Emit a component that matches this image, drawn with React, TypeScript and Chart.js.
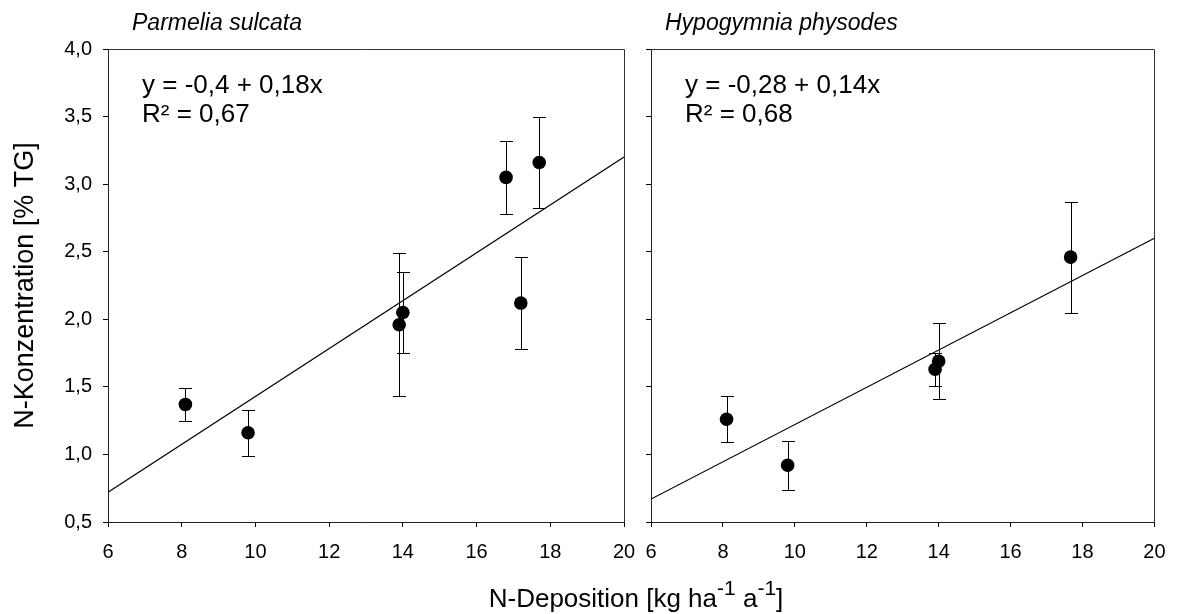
import React, { useEffect, useRef } from "react";
import { Chart, registerables } from "chart.js";

Chart.register(...registerables);

// ---- data ----
const xTicks = [6, 8, 10, 12, 14, 16, 18, 20];
const yTicks = [0.5, 1.0, 1.5, 2.0, 2.5, 3.0, 3.5, 4.0];

const leftX = [8.1, 9.8, 13.9, 14.0, 16.8, 17.2, 17.7];
const leftY = [1.37, 1.16, 1.96, 2.05, 3.05, 2.12, 3.16];
const leftLow = [1.25, 0.99, 1.43, 1.75, 2.78, 1.78, 2.82];
const leftHigh = [1.49, 1.33, 2.49, 2.35, 3.32, 2.46, 3.5];

const rightX = [8.1, 9.8, 13.9, 14.0, 17.67];
const rightY = [1.26, 0.92, 1.63, 1.69, 2.46];
const rightLow = [1.09, 0.74, 1.51, 1.41, 2.05];
const rightHigh = [1.43, 1.1, 1.75, 1.97, 2.87];

const lineX = [6, 20];
const leftLineY = [0.72, 3.2];
const rightLineY = [0.67, 2.6];

const leftTitle = "Parmelia sulcata";
const rightTitle = "Hypogymnia physodes";
const leftEq = ["y = -0,4 + 0,18x", "R² = 0,67"];
const rightEq = ["y = -0,28 + 0,14x", "R² = 0,68"];
const yTitle = "N-Konzentration [% TG]";

const FONT = "'Liberation Sans', Arial, sans-serif";

function errorBarPlugin(xs: number[], lows: number[], highs: number[]) {
  return {
    id: "errbars",
    beforeDatasetsDraw(chart: any) {
      const { ctx } = chart;
      const xs_ = chart.scales.x;
      const ys_ = chart.scales.y;
      ctx.save();
      ctx.strokeStyle = "#000";
      ctx.lineWidth = 1;
      for (let i = 0; i < xs.length; i++) {
        const px = Math.round(xs_.getPixelForValue(xs[i])) + 0.5;
        const pl = Math.round(ys_.getPixelForValue(lows[i])) + 0.5;
        const ph = Math.round(ys_.getPixelForValue(highs[i])) + 0.5;
        ctx.beginPath();
        ctx.moveTo(px, pl);
        ctx.lineTo(px, ph);
        ctx.moveTo(px - 6.5, pl);
        ctx.lineTo(px + 6.5, pl);
        ctx.moveTo(px - 6.5, ph);
        ctx.lineTo(px + 6.5, ph);
        ctx.stroke();
      }
      ctx.restore();
    },
  };
}

function framePlugin() {
  return {
    id: "frame",
    afterDatasetsDraw(chart: any) {
      const { ctx, chartArea: a } = chart;
      ctx.save();
      ctx.strokeStyle = "#333";
      ctx.lineWidth = 1;
      ctx.beginPath();
      ctx.moveTo(Math.round(a.left), Math.round(a.top) + 0.5);
      ctx.lineTo(Math.round(a.right) + 0.5, Math.round(a.top) + 0.5);
      ctx.lineTo(Math.round(a.right) + 0.5, Math.round(a.bottom));
      ctx.stroke();
      ctx.restore();
    },
  };
}

function textPlugin(title: string, eq: string[], titleX: number, eqX: number, withAxisTitles: boolean) {
  return {
    id: "texts",
    afterDraw(chart: any) {
      const { ctx } = chart;
      ctx.save();
      ctx.fillStyle = "#000";
      ctx.textBaseline = "alphabetic";
      ctx.textAlign = "left";
      ctx.font = `italic 23px ${FONT}`;
      ctx.fillText(title, titleX, 30);
      ctx.font = `26px ${FONT}`;
      ctx.fillText(eq[0], eqX, 93);
      ctx.fillText(eq[1], eqX, 122);
      if (withAxisTitles) {
        // y title
        ctx.save();
        ctx.translate(33, 285.5);
        ctx.rotate(-Math.PI / 2);
        ctx.textAlign = "center";
        ctx.font = `27px ${FONT}`;
        ctx.fillText(yTitle, 0, 0);
        ctx.restore();
        // x title with superscripts
        const parts: [string, boolean][] = [
          ["N-Deposition [kg ha", false],
          ["-1", true],
          [" a", false],
          ["-1", true],
          ["]", false],
        ];
        const big = `26px ${FONT}`;
        const small = `21px ${FONT}`;
        let total = 0;
        for (const [t, s] of parts) {
          ctx.font = s ? small : big;
          total += ctx.measureText(t).width;
        }
        let x = 636 - total / 2;
        for (const [t, s] of parts) {
          ctx.font = s ? small : big;
          ctx.fillText(t, x, s ? 595 : 607);
          x += ctx.measureText(t).width;
        }
      }
      ctx.restore();
    },
  };
}

function makeConfig(
  xs: number[],
  ys: number[],
  lineY: number[],
  yAxisWidth: number,
  showYLabels: boolean,
  padRight: number,
  plugins: any[]
): any {
  return {
    type: "scatter",
    data: {
      datasets: [
        {
          type: "line",
          data: lineX.map((x, i) => ({ x, y: lineY[i] })),
          borderColor: "#000",
          borderWidth: 1.2,
          pointRadius: 0,
          showLine: true,
          fill: false,
        },
        {
          type: "scatter",
          data: xs.map((x, i) => ({ x, y: ys[i] })),
          backgroundColor: "#000",
          borderColor: "#000",
          borderWidth: 0,
          pointRadius: 6.8,
          pointHoverRadius: 6.8,
        },
      ],
    },
    options: {
      animation: false,
      responsive: false,
      devicePixelRatio: 1,
      events: [],
      layout: { padding: { top: 49, right: padRight, bottom: 0, left: 0 } },
      plugins: { legend: { display: false }, tooltip: { enabled: false } },
      scales: {
        x: {
          type: "linear",
          min: 6,
          max: 20,
          afterBuildTicks: (scale: any) => {
            scale.ticks = xTicks.map((v) => ({ value: v }));
          },
          afterFit: (scale: any) => {
            scale.height = 92;
          },
          ticks: {
            color: "#000",
            font: { family: FONT, size: 20 },
            padding: 13.5,
            maxRotation: 0,
            autoSkip: false,
            callback: (v: any) => String(v),
          },
          grid: { display: true, drawOnChartArea: false, drawTicks: true, tickLength: 5, color: "#000" },
          border: { display: true, color: "#222", width: 1 },
        },
        y: {
          type: "linear",
          min: 0.5,
          max: 4.0,
          afterBuildTicks: (scale: any) => {
            scale.ticks = yTicks.map((v) => ({ value: v }));
          },
          afterFit: (scale: any) => {
            scale.width = yAxisWidth;
          },
          ticks: {
            color: "#000",
            font: { family: FONT, size: 20 },
            padding: 11,
            autoSkip: false,
            callback: (v: any) => (showYLabels ? Number(v).toFixed(1).replace(".", ",") : ""),
          },
          grid: { display: true, drawOnChartArea: false, drawTicks: true, tickLength: 5, color: "#000" },
          border: { display: true, color: "#222", width: 1 },
        },
      },
    },
    plugins,
  };
}

export default function App() {
  const leftRef = useRef<HTMLCanvasElement | null>(null);
  const rightRef = useRef<HTMLCanvasElement | null>(null);

  useEffect(() => {
    document.body.style.margin = "0";
    document.body.style.background = "#fff";
    const c1 = new Chart(
      leftRef.current as HTMLCanvasElement,
      makeConfig(leftX, leftY, leftLineY, 108, true, 1179 - 624, [
        errorBarPlugin(leftX, leftLow, leftHigh),
        framePlugin(),
        textPlugin(leftTitle, leftEq, 132, 142, true),
      ])
    );
    const c2 = new Chart(
      rightRef.current as HTMLCanvasElement,
      makeConfig(rightX, rightY, rightLineY, 15, false, 16, [
        errorBarPlugin(rightX, rightLow, rightHigh),
        framePlugin(),
        textPlugin(rightTitle, rightEq, 665 - 632, 685 - 632, false),
      ])
    );
    return () => {
      c1.destroy();
      c2.destroy();
    };
  }, []);

  return (
    <div style={{ position: "relative", width: 1179, height: 614, background: "#fff" }}>
      <canvas
        ref={leftRef}
        width={1179}
        height={614}
        style={{ position: "absolute", left: 0, top: 0, width: 1179, height: 614 }}
      />
      <canvas
        ref={rightRef}
        width={547}
        height={614}
        style={{ position: "absolute", left: 632, top: 0, width: 547, height: 614 }}
      />
    </div>
  );
}
